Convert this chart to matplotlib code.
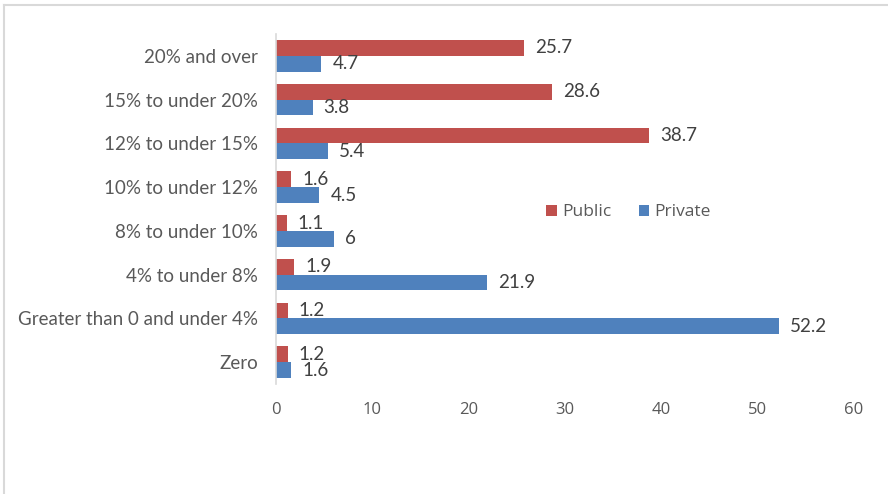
import numpy as np
import matplotlib.pyplot as plt
from matplotlib.lines import Line2D

categories = ["Zero", "Greater than 0 and under 4%", "4% to under 8%", "8% to under 10%",
              "10% to under 12%", "12% to under 15%", "15% to under 20%", "20% and over"]
public = [1.2, 1.2, 1.9, 1.1, 1.6, 38.7, 28.6, 25.7]
private = [1.6, 52.2, 21.9, 6, 4.5, 5.4, 3.8, 4.7]
x_ticks = [0, 10, 20, 30, 40, 50, 60]

plt.rcParams['font.family'] = ['Open Sans', 'DejaVu Sans']
text_color = "#595959"

fig = plt.figure(figsize=(8.88, 4.94), dpi=100)
ax = fig.add_axes([276 / 888, 1 - 384 / 494, 578 / 888, 350 / 494])

y = np.arange(len(categories))
h = 0.36
b1 = ax.barh(y + h / 2, public, height=h, color="#C0504D", label="Public")
b2 = ax.barh(y - h / 2, private, height=h, color="#4F81BD", label="Private")

for bars in (b1, b2):
    ax.bar_label(bars, labels=[f"{v:g}" for v in bars.datavalues], padding=8,
                 fontsize=13.5, color="#404040", family=["Lato", "DejaVu Sans"])

ax.set_xlim(0, 60)
ax.set_ylim(-0.5, len(categories) - 0.5)
ax.set_xticks(x_ticks)
ax.set_yticks(y)
ax.set_yticklabels(categories, family=["Lato", "DejaVu Sans"], fontsize=13.5)
ax.tick_params(length=0, colors=text_color)
ax.tick_params(axis="y", pad=13)
ax.tick_params(axis="x", pad=13, labelsize=12)

for s in ("top", "right", "bottom"):
    ax.spines[s].set_visible(False)
ax.spines["left"].set_color("#D9D9D9")
ax.spines["left"].set_linewidth(1.2)

ax.legend(loc="center", bbox_to_anchor=(0.61, 0.49), ncol=2, frameon=False,
          fontsize=12.5, labelcolor=text_color, handlelength=0.6, handleheight=0.6,
          handletextpad=0.3, columnspacing=1.6)

# light outer frame (top and left edges only visible)
fig.add_artist(Line2D([4 / 888, 1], [1 - 5 / 494, 1 - 5 / 494], color="#D9D9D9", lw=1.5))
fig.add_artist(Line2D([4 / 888, 4 / 888], [0, 1 - 5 / 494], color="#D9D9D9", lw=1.5))

fig.savefig("out.png", dpi=100)
